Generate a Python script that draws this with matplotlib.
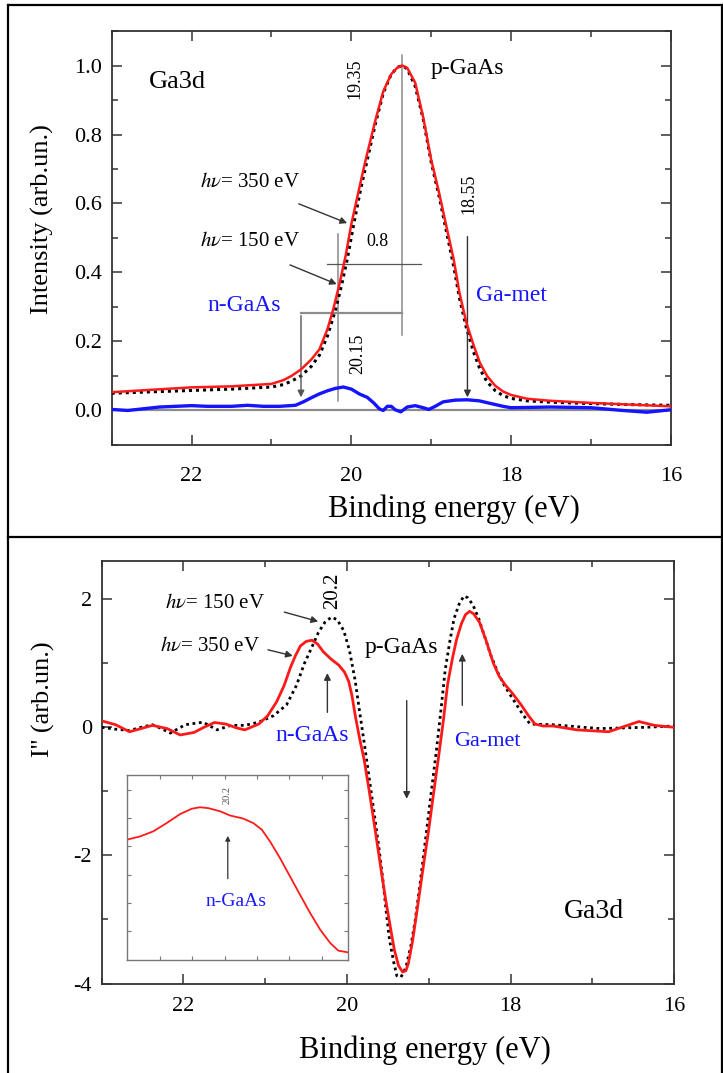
import matplotlib
matplotlib.use("Agg")
import matplotlib.pyplot as plt
from matplotlib.lines import Line2D
from matplotlib.ticker import MultipleLocator

plt.rcParams['font.family'] = ['Liberation Serif', 'DejaVu Serif']
plt.rcParams['mathtext.fontset'] = 'stix'
plt.rcParams['axes.unicode_minus'] = False

# ---- top panel: Ga3d photoemission spectra ----
e_350 = [23.0, 22.5, 22.0, 21.5, 21.0, 20.85, 20.75, 20.63, 20.5, 20.4, 20.3, 20.23, 20.15,
         20.07, 20.0, 19.9, 19.82, 19.7, 19.6, 19.5, 19.42, 19.36, 19.3, 19.2, 19.1, 19.0,
         18.9, 18.81, 18.72, 18.645, 18.56, 18.47, 18.39, 18.3, 18.2, 18.1, 18.0, 17.8,
         17.5, 17.0, 16.5, 16.0]
i_350 = [0.053, 0.060, 0.067, 0.070, 0.077, 0.088, 0.100, 0.119, 0.148, 0.177, 0.235, 0.29,
         0.365, 0.45, 0.54, 0.645, 0.727, 0.84, 0.925, 0.975, 0.995, 1.0, 0.993, 0.95, 0.85,
         0.727, 0.63, 0.534, 0.44, 0.34, 0.255, 0.19, 0.138, 0.10, 0.072, 0.055, 0.045,
         0.034, 0.028, 0.022, 0.017, 0.012]

e_150 = [23.0, 22.5, 22.0, 21.5, 21.0, 20.85, 20.75, 20.63, 20.5, 20.4, 20.3, 20.2, 20.12,
         20.05, 19.97, 19.88, 19.8, 19.7, 19.6, 19.5, 19.42, 19.36, 19.3, 19.2, 19.1, 19.0,
         18.9, 18.81, 18.72, 18.645, 18.56, 18.47, 18.39, 18.3, 18.2, 18.1, 18.0, 17.8,
         17.5, 17.0, 16.5, 16.0]
i_150 = [0.050, 0.054, 0.058, 0.062, 0.068, 0.075, 0.085, 0.100, 0.128, 0.16, 0.215, 0.29,
         0.365, 0.44, 0.54, 0.645, 0.727, 0.83, 0.92, 0.975, 0.995, 1.0, 0.99, 0.94, 0.845,
         0.72, 0.62, 0.52, 0.42, 0.325, 0.24, 0.17, 0.12, 0.083, 0.058, 0.043, 0.035,
         0.028, 0.024, 0.020, 0.017, 0.015]

e_diff = [23.0, 22.8, 22.6, 22.4, 22.2, 22.0, 21.8, 21.5, 21.3, 21.1, 20.9, 20.7, 20.6, 20.5,
          20.4, 20.3, 20.2, 20.1, 20.0, 19.9, 19.8, 19.72, 19.65, 19.6, 19.55, 19.5, 19.45,
          19.38, 19.3, 19.2, 19.1, 19.03, 18.95, 18.85, 18.7, 18.55, 18.4, 18.25, 18.1,
          18.0, 17.5, 17.0, 16.6, 16.3, 16.0]
i_diff = [0.003, 0.0, 0.005, 0.010, 0.012, 0.014, 0.012, 0.012, 0.015, 0.012, 0.012, 0.015,
          0.025, 0.037, 0.048, 0.057, 0.064, 0.068, 0.062, 0.048, 0.038, 0.022, 0.005, 0.0,
          0.012, 0.012, 0.002, -0.004, 0.010, 0.014, 0.008, 0.003, 0.012, 0.025, 0.030,
          0.031, 0.028, 0.020, 0.012, 0.008, 0.010, 0.008, 0.0, -0.005, 0.002]

# ---- bottom panel: second derivative ----
e2_350 = [23.0, 22.83, 22.66, 22.52, 22.38, 22.2, 22.04, 21.87, 21.75, 21.62, 21.48, 21.35,
          21.25, 21.08, 20.97, 20.86, 20.77, 20.69, 20.63, 20.57, 20.5, 20.43, 20.36, 20.29,
          20.2, 20.1, 20.03, 19.98, 19.94, 19.9, 19.85, 19.79, 19.73, 19.67, 19.6, 19.53,
          19.47, 19.42, 19.37, 19.32, 19.28, 19.25, 19.2, 19.14, 19.07, 19.0, 18.94, 18.88,
          18.82, 18.77, 18.71, 18.66, 18.6, 18.55, 18.5, 18.45, 18.38, 18.3, 18.21, 18.14,
          18.07, 17.97, 17.87, 17.78, 17.7, 17.6, 17.48, 17.19, 16.8, 16.57, 16.43, 16.24,
          16.0]
d2_350 = [0.10, 0.04, -0.07, -0.02, 0.03, -0.02, -0.12, -0.08, 0.0, 0.075, 0.05, -0.01,
          -0.04, 0.05, 0.18, 0.40, 0.65, 0.94, 1.12, 1.27, 1.34, 1.36, 1.30, 1.18,
          1.07, 0.97, 0.86, 0.72, 0.50, 0.19, -0.15, -0.51, -0.98, -1.48, -2.08, -2.67,
          -3.12, -3.48, -3.72, -3.82, -3.80, -3.69, -3.35, -2.83, -2.20, -1.59, -1.02, -0.46,
          0.12, 0.67, 1.08, 1.37, 1.62, 1.76, 1.81, 1.77, 1.64, 1.36, 1.0, 0.80,
          0.67, 0.52, 0.35, 0.18, 0.05, 0.02, 0.02, -0.04, -0.07, 0.03, 0.09, 0.03,
          0.0]

e2_150 = [23.0, 22.83, 22.66, 22.52, 22.38, 22.27, 22.16, 21.98, 21.76, 21.59, 21.42, 21.25,
          21.08, 20.9, 20.74, 20.62, 20.52, 20.43, 20.35, 20.27, 20.19, 20.12, 20.04, 19.97,
          19.9, 19.85, 19.79, 19.73, 19.67, 19.61, 19.56, 19.52, 19.48, 19.43, 19.39, 19.34,
          19.28, 19.22, 19.17, 19.11, 19.05, 18.98, 18.91, 18.85, 18.8, 18.74, 18.69, 18.63,
          18.57, 18.52, 18.46, 18.39, 18.32, 18.24, 18.15, 18.07, 17.98, 17.85, 17.76,
          17.48, 16.91, 16.35, 16.0]
d2_150 = [0.0, -0.03, -0.05, 0.0, 0.04, -0.02, -0.09, 0.04, 0.08, -0.04, 0.03, 0.03,
          0.08, 0.18, 0.35, 0.65, 1.0, 1.25, 1.48, 1.64, 1.72, 1.68, 1.51, 1.20,
          0.73, 0.28, -0.24, -0.78, -1.32, -1.88, -2.40, -2.88, -3.32, -3.66, -3.88, -3.90,
          -3.75, -3.42, -3.05, -2.48, -1.86, -1.12, -0.40, 0.28, 0.89, 1.36, 1.70, 1.92,
          2.05, 2.02, 1.91, 1.70, 1.43, 1.12, 0.84, 0.64, 0.46, 0.20, 0.05,
          0.04, -0.02, 0.0, 0.02]

# inset: close-up of the 350 eV n-GaAs shoulder (arb. units)
x_ins = [0.0, 0.39, 0.80, 1.21, 1.63, 1.99, 2.24, 2.50, 2.86, 3.17, 3.58, 3.89, 4.15, 4.40,
         4.71, 5.02, 5.33, 5.64, 5.95, 6.26, 6.51, 6.80]
y_ins = [4.24, 4.35, 4.53, 4.82, 5.14, 5.33, 5.38, 5.35, 5.24, 5.09, 4.98, 4.82, 4.59, 4.18,
         3.59, 2.94, 2.29, 1.65, 1.06, 0.59, 0.32, 0.26]

FRAME = '#333333'
GRAY = '#8c8c8c'


def style_axes(ax, pad_x):
    for s in ax.spines.values():
        s.set_color(FRAME)
        s.set_linewidth(1.3)
    ax.tick_params(which='both', direction='in', top=True, right=True, color=FRAME,
                   labelsize=16, width=1.1)
    ax.tick_params(which='major', length=7)
    ax.tick_params(which='minor', length=4)
    ax.tick_params(axis='x', which='major', pad=pad_x)
    ax.tick_params(axis='y', which='major', pad=7)


def arrow(ax, start, end, lw=1.0, ms=10, color='#333333'):
    ax.annotate('', xy=end, xytext=start,
                arrowprops=dict(arrowstyle='-|>', color=color, lw=lw, mutation_scale=ms))


fig = plt.figure(figsize=(7.23, 10.73), dpi=100)

# ---------------- top ----------------
ax1 = fig.add_axes([0.1545, 0.5853, 0.7733, 0.3858])
ax1.axhline(0, color=GRAY, lw=1.6, zorder=1)
ax1.plot(e_150, i_150, color='black', ls=(0, (1, 1.3)), lw=2.2, zorder=3)
ax1.plot(e_350, i_350, color='#ff1a1a', lw=1.8, zorder=4)
ax1.plot(e_diff, i_diff, color='#1414ff', lw=2.4, zorder=4)

# guide lines
ax1.plot([19.37, 19.37], [1.03, 0.22], color=GRAY, lw=1.1, zorder=2)
ax1.plot([20.17, 20.17], [0.512, 0.028], color=GRAY, lw=1.1, zorder=2)
ax1.plot([20.31, 19.125], [0.425, 0.425], color='#555555', lw=0.9, zorder=2)
ax1.plot([20.63, 19.37], [0.283, 0.283], color=GRAY, lw=1.6, zorder=2)
arrow(ax1, (20.63, 0.283), (20.63, 0.03), color='#555555')
arrow(ax1, (18.546, 0.512), (18.546, 0.03))
arrow(ax1, (20.69, 0.602), (20.02, 0.540))
arrow(ax1, (20.80, 0.425), (20.15, 0.363))

ax1.text(22.54, 0.952, 'Ga3d', fontsize=19, va='center', ha='left')
ax1.text(19.01, 0.992, 'p-GaAs', fontsize=17, va='center', ha='left')
ax1.text(19.95, 0.962, '19.35', fontsize=13, rotation=90, va='center', ha='center')
ax1.text(18.53, 0.627, '18.55', fontsize=13, rotation=90, va='center', ha='center')
ax1.text(19.675, 0.49, '0.8', fontsize=13, va='center', ha='center')
ax1.text(19.92, 0.163, '20.15', fontsize=13, rotation=90, va='center', ha='center')
ax1.text(21.90, 0.662, r'$h\nu$= 350 eV', fontsize=15, va='center', ha='left')
ax1.text(21.90, 0.49, r'$h\nu$= 150 eV', fontsize=15, va='center', ha='left')
ax1.text(21.34, 0.303, 'n-GaAs', fontsize=17, color='#1414ff', va='center', ha='center')
ax1.text(18.0, 0.333, 'Ga-met', fontsize=17, color='#1414ff', va='center', ha='center')

ax1.set_xlim(23, 16)
ax1.set_ylim(-0.1, 1.1)
ax1.xaxis.set_major_locator(MultipleLocator(2))
ax1.xaxis.set_minor_locator(MultipleLocator(1))
ax1.yaxis.set_major_locator(MultipleLocator(0.2))
ax1.yaxis.set_minor_locator(MultipleLocator(0.1))
ax1.yaxis.set_major_formatter(plt.FuncFormatter(lambda v, p: f'{v:.1f}'))
style_axes(ax1, 16)
ax1.set_xlabel('Binding energy (eV)', fontsize=22)
ax1.set_ylabel('Intensity (arb.un.)', fontsize=19)
ax1.xaxis.set_label_coords(0.612, -0.12)
ax1.yaxis.set_label_coords(-0.103, 0.546)

# ---------------- bottom ----------------
ax2 = fig.add_axes([0.1407, 0.0834, 0.7916, 0.394])
ax2.plot(e2_150, d2_150, color='black', ls=(0, (1, 1.3)), lw=2.0, zorder=3)
ax2.plot(e2_350, d2_350, color='#ff1a1a', lw=2.0, zorder=4)

arrow(ax2, (20.24, 0.19), (20.24, 0.89))
arrow(ax2, (19.27, 0.46), (19.27, -1.16))
arrow(ax2, (18.59, 0.30), (18.59, 1.19))
arrow(ax2, (20.80, 1.81), (20.32, 1.64))
arrow(ax2, (21.0, 1.22), (20.63, 1.105))

ax2.text(22.22, 1.94, r'$h\nu$= 150 eV', fontsize=15, va='center', ha='left')
ax2.text(22.29, 1.256, r'$h\nu$= 350 eV', fontsize=15, va='center', ha='left')
ax2.text(20.18, 2.13, '20.2', fontsize=15, rotation=90, va='center', ha='center')
ax2.text(19.335, 1.24, 'p-GaAs', fontsize=17, va='center', ha='center')
ax2.text(20.42, -0.135, 'n-GaAs', fontsize=17, color='#1414ff', va='center', ha='center')
ax2.text(18.28, -0.216, 'Ga-met', fontsize=16, color='#1414ff', va='center', ha='center')
ax2.text(16.98, -2.88, 'Ga3d', fontsize=20, va='center', ha='center')

ax2.set_xlim(23, 16)
ax2.set_ylim(-4, 2.6)
ax2.xaxis.set_major_locator(MultipleLocator(2))
ax2.xaxis.set_minor_locator(MultipleLocator(1))
ax2.yaxis.set_major_locator(MultipleLocator(2))
ax2.yaxis.set_minor_locator(MultipleLocator(1))
style_axes(ax2, 10)
ax2.set_xlabel('Binding energy (eV)', fontsize=22)
ax2.set_ylabel("I'' (arb.un.)", fontsize=19)
ax2.xaxis.set_label_coords(0.565, -0.122)
ax2.yaxis.set_label_coords(-0.082, 0.673)

# inset
ax3 = fig.add_axes([0.1761, 0.1056, 0.3048, 0.1724])
ax3.plot(x_ins, y_ins, color='#ff1a1a', lw=1.3)
arrow(ax3, (3.1, 2.76), (3.1, 4.47), lw=0.9, ms=7)
ax3.text(3.09, 5.82, '20.2', fontsize=7.5, color='#555555', rotation=90, va='center', ha='center')
ax3.text(3.37, 2.06, 'n-GaAs', fontsize=14, color='#1a1aff', va='center', ha='center')
ax3.set_xlim(0, 6.8)
ax3.set_ylim(0, 6.53)
ax3.set_xticks([1, 2, 3, 4, 5, 6])
ax3.set_yticks([1, 2, 3, 4, 5, 6])
ax3.tick_params(direction='in', top=True, right=True, length=3, color='#777777',
                labelbottom=False, labelleft=False)
for s in ax3.spines.values():
    s.set_color('#777777')
    s.set_linewidth(1.0)

# page borders around the two panels
for xs, ys in [([0.0104, 0.0104], [0.0, 0.9953]), ([0.0104, 1.0], [0.9953, 0.9953]),
               ([0.0104, 1.0], [0.4995, 0.4995]), ([0.998, 0.998], [0.0, 0.9953])]:
    fig.add_artist(Line2D(xs, ys, color='black', lw=1.6, transform=fig.transFigure))

fig.savefig('out.png', dpi=100)
